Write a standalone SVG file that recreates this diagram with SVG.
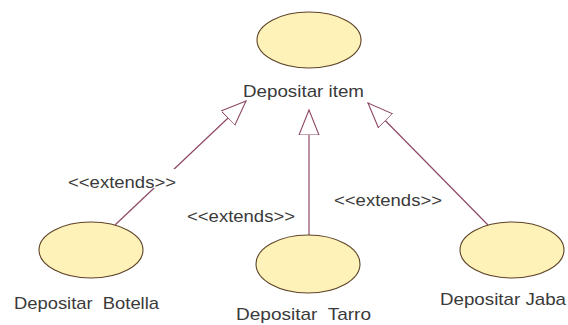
<svg xmlns="http://www.w3.org/2000/svg" width="568" height="325" viewBox="0 0 568 325">
<defs>
<style>
.uc{fill:#fff2b8;stroke:#5e4328;stroke-width:1.1}
.lbl{font-family:"Liberation Sans",Arial,sans-serif;font-size:17px;fill:#3a3a3a;white-space:pre}
.conn{stroke:#8e4866;stroke-width:1.2;fill:none}
.bg{fill:#ffffff}
</style>
<marker id="gen" markerUnits="userSpaceOnUse" markerWidth="28" markerHeight="24" viewBox="0 -12 28 24" refX="25" refY="0" orient="auto">
<path d="M0,-10 L25,0 L0,10 Z" fill="#ffffff" stroke="#8e4866" stroke-width="1.1"/>
</marker>
</defs>
<rect width="568" height="325" fill="#ffffff"/>
<g id="connectors">
<path class="conn" d="M115,225 L246,101" marker-end="url(#gen)"/>
<path class="conn" d="M309,236 L309,110" marker-end="url(#gen)"/>
<path class="conn" d="M488,225 L368,103" marker-end="url(#gen)"/>
<g id="label-botella">
<rect class="bg" x="66" y="169" width="112" height="19"/>
<text class="lbl" x="68" y="188" textLength="108" lengthAdjust="spacingAndGlyphs">&lt;&lt;extends&gt;&gt;</text>
</g>
<text class="lbl" x="187" y="222" textLength="108" lengthAdjust="spacingAndGlyphs">&lt;&lt;extends&gt;&gt;</text>
<text class="lbl" x="334" y="206" textLength="108" lengthAdjust="spacingAndGlyphs">&lt;&lt;extends&gt;&gt;</text>
</g>
<g id="depositar-item">
<ellipse class="uc" cx="309" cy="40" rx="52" ry="28"/>
<text class="lbl" x="243" y="97" textLength="121" lengthAdjust="spacingAndGlyphs">Depositar item</text>
</g>
<g id="depositar-botella">
<ellipse class="uc" cx="91" cy="250" rx="52" ry="28"/>
<text class="lbl" x="14" y="309" textLength="145" lengthAdjust="spacingAndGlyphs" xml:space="preserve">Depositar  Botella</text>
</g>
<g id="depositar-tarro">
<ellipse class="uc" cx="308" cy="264" rx="52" ry="29"/>
<text class="lbl" x="236" y="320" textLength="135" lengthAdjust="spacingAndGlyphs" xml:space="preserve">Depositar  Tarro</text>
</g>
<g id="depositar-jaba">
<ellipse class="uc" cx="512" cy="250" rx="52" ry="28"/>
<text class="lbl" x="440" y="305" textLength="126" lengthAdjust="spacingAndGlyphs">Depositar Jaba</text>
</g>
</svg>
